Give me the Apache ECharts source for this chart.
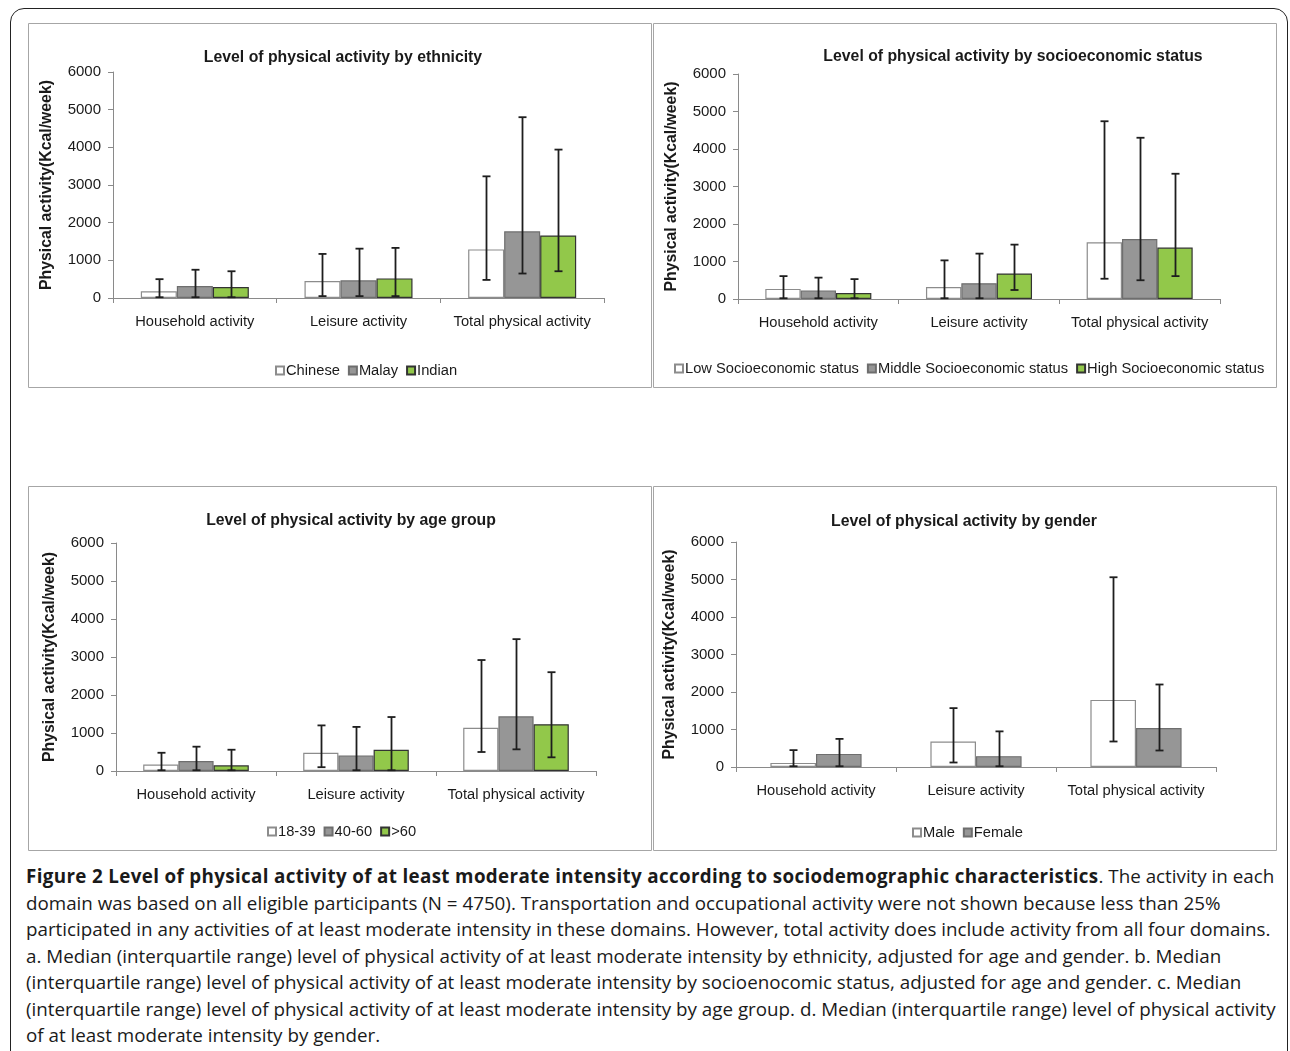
<!DOCTYPE html>
<html>
<head>
<meta charset="utf-8">
<title>Level of physical activity</title>
<script src="https://cdn.jsdelivr.net/npm/echarts@6/dist/echarts.min.js"></script>
<style>
  body { margin: 0; background: #fff; width: 1290px; height: 1051px; overflow: hidden; position: relative; }
  #frame { position: absolute; left: 10px; top: 8px; width: 1276px; height: 1100px; border: 1.5px solid #222; border-radius: 14px; }
  #main { position: absolute; left: 0; top: 0; width: 1290px; height: 860px; }
  #caption { position: absolute; left: 26px; top: 863px; font-family: "Open Sans", sans-serif; font-size: 18.8px; line-height: 26.5px; color: #1a1a1a; white-space: nowrap; }
  #caption b { letter-spacing: 0.35px; }
</style>
</head>
<body>
<div id="frame"></div>
<div id="main"></div>
<div id="caption">
<b>Figure 2 Level of physical activity of at least moderate intensity according to sociodemographic characteristics</b>. The activity in each<br>
domain was based on all eligible participants (N = 4750). Transportation and occupational activity were not shown because less than 25%<br>
participated in any activities of at least moderate intensity in these domains. However, total activity does include activity from all four domains.<br>
a. Median (interquartile range) level of physical activity of at least moderate intensity by ethnicity, adjusted for age and gender. b. Median<br>
(interquartile range) level of physical activity of at least moderate intensity by socioenocomic status, adjusted for age and gender. c. Median<br>
(interquartile range) level of physical activity of at least moderate intensity by age group. d. Median (interquartile range) level of physical activity<br>
of at least moderate intensity by gender.
</div>
<script>
// categories shared by all four panels
var categories = ['Household activity', 'Leisure activity', 'Total physical activity'];
var yTicks = [0, 1000, 2000, 3000, 4000, 5000, 6000];

// a. ethnicity : median, lower and upper quartile (per group, per category)
var ethnicNames = ['Chinese', 'Malay', 'Indian'];
var ethnicMedian = [[180, 450, 1290], [320, 470, 1770], [290, 520, 1660]];
var ethnicLow = [[20, 50, 480], [20, 50, 650], [20, 50, 710]];
var ethnicHigh = [[500, 1170, 3230], [750, 1310, 4800], [710, 1330, 3940]];

// b. socioeconomic status
var sesNames = ['Low Socioeconomic status', 'Middle Socioeconomic status', 'High Socioeconomic status'];
var sesMedian = [[270, 320, 1510], [230, 420, 1600], [160, 680, 1370]];
var sesLow = [[20, 20, 540], [20, 20, 500], [20, 240, 610]];
var sesHigh = [[610, 1030, 4740], [570, 1210, 4300], [530, 1450, 3340]];

// c. age group
var ageNames = ['18-39', '40-60', '>60'];
var ageMedian = [[170, 480, 1140], [260, 410, 1440], [150, 560, 1230]];
var ageLow = [[20, 100, 500], [20, 20, 570], [20, 20, 360]];
var ageHigh = [[480, 1200, 2920], [640, 1160, 3470], [560, 1420, 2600]];

// d. gender
var genderNames = ['Male', 'Female'];
var genderMedian = [[110, 680, 1790], [350, 290, 1040]];
var genderLow = [[20, 120, 680], [20, 20, 440]];
var genderHigh = [[450, 1570, 5060], [750, 950, 2200]];

var fills = [
  { color: '#ffffff', borderColor: '#8c8c8c', borderWidth: 1.2 },
  { color: '#969696', borderColor: '#6e6e6e', borderWidth: 1.2 },
  { color: '#92c84a', borderColor: '#333333', borderWidth: 1.2 }
];

var panels = [
  { title: 'Level of physical activity by ethnicity', names: ethnicNames, median: ethnicMedian, low: ethnicLow, high: ethnicHigh,
    grid: { left: 113, top: 72, width: 491, height: 226 }, titleAt: [343, 57], legendAt: [270, 358], box: [28, 23, 623, 364], gap: 0.34 },
  { title: 'Level of physical activity by socioeconomic status', names: sesNames, median: sesMedian, low: sesLow, high: sesHigh,
    grid: { left: 738, top: 74, width: 482, height: 225 }, titleAt: [1013, 56], legendAt: [669, 356], box: [653, 23, 623, 364], gap: 0.34 },
  { title: 'Level of physical activity by age group', names: ageNames, median: ageMedian, low: ageLow, high: ageHigh,
    grid: { left: 116, top: 543, width: 480, height: 228 }, titleAt: [351, 520], legendAt: [262, 819], box: [28, 486, 623, 364], gap: 0.34 },
  { title: 'Level of physical activity by gender', names: genderNames, median: genderMedian, low: genderLow, high: genderHigh,
    grid: { left: 736, top: 542, width: 480, height: 225 }, titleAt: [964, 521], legendAt: [907, 820], box: [653, 486, 623, 364], gap: 0.43 }
];

// error bar drawn over the k-th bar of a category
function errorBars(n, gap) {
  return function (params, api) {
    var cat = api.value(0), k = api.value(3);
    var top = api.coord([cat, api.value(2)]);
    var bot = api.coord([cat, api.value(1)]);
    var band = api.size([1, 0])[0];
    var groupW = band * (1 - gap);
    var x = Math.round(top[0] - groupW / 2 + groupW / n * (k + 0.5)) + 0.5;
    var st = { stroke: '#1e1e1e', lineWidth: 1.8 };
    return {
      type: 'group',
      children: [
        { type: 'line', shape: { x1: x, y1: top[1], x2: x, y2: bot[1] }, style: st },
        { type: 'line', shape: { x1: x - 4, y1: top[1], x2: x + 4, y2: top[1] }, style: st },
        { type: 'line', shape: { x1: x - 4, y1: bot[1], x2: x + 4, y2: bot[1] }, style: st }
      ]
    };
  };
}

var grids = [], xAxes = [], yAxes = [], legends = [], series = [], graphics = [];
var axisGray = '#8a8a8a';

panels.forEach(function (p, i) {
  graphics.push({
    type: 'rect', shape: { x: p.box[0] + 0.5, y: p.box[1] + 0.5, width: p.box[2], height: p.box[3] },
    style: { fill: 'none', stroke: '#a6a6a6', lineWidth: 1 }, z: -1
  });
  graphics.push({
    type: 'text', x: p.titleAt[0], y: p.titleAt[1] + 1,
    style: { text: p.title, fontFamily: 'Liberation Sans', fontWeight: 'bold', fontSize: 15.8, fill: '#1a1a1a', align: 'center', verticalAlign: 'middle' }
  });
  grids.push(p.grid);
  xAxes.push({
    type: 'category', gridIndex: i, data: categories,
    axisLine: { lineStyle: { color: axisGray, width: 1 } },
    axisTick: { show: true, length: 5, alignWithLabel: false, lineStyle: { color: axisGray } },
    axisLabel: { interval: 0, fontSize: 14.7, color: '#1a1a1a', margin: 16, fontFamily: 'Liberation Sans' }
  });
  yAxes.push({
    type: 'value', gridIndex: i, min: yTicks[0], max: yTicks[yTicks.length - 1], interval: yTicks[1] - yTicks[0],
    name: 'Physical activity(Kcal/week)', nameLocation: 'middle', nameGap: 58, nameRotate: 90,
    nameTextStyle: { fontSize: 15.8, fontWeight: 'bold', color: '#1a1a1a', fontFamily: 'Liberation Sans' },
    axisLine: { show: true, lineStyle: { color: axisGray, width: 1 } },
    axisTick: { show: true, length: 5, lineStyle: { color: axisGray } },
    splitLine: { show: false },
    axisLabel: { fontSize: 15, color: '#1a1a1a', margin: 12, fontFamily: 'Liberation Sans',
      formatter: function (v) { return String(v); } }
  });
  legends.push({
    left: p.legendAt[0], top: p.legendAt[1], data: p.names, icon: 'rect',
    itemWidth: 8, itemHeight: 8, itemGap: 8,
    textStyle: { fontSize: 14.7, color: '#1a1a1a', fontFamily: 'Liberation Sans', padding: [0, 0, 0, -3] }
  });
  var n = p.names.length;
  var errData = [];
  p.names.forEach(function (name, k) {
    series.push({
      type: 'bar', name: name, xAxisIndex: i, yAxisIndex: i,
      data: p.median[k], barGap: '0%', barCategoryGap: (p.gap * 100) + '%',
      itemStyle: fills[k], emphasis: { disabled: true }, animation: false
    });
    for (var c = 0; c < categories.length; c++) {
      errData.push([c, p.low[k][c], p.high[k][c], k]);
    }
  });
  series.push({
    type: 'custom', name: 'iqr' + i, xAxisIndex: i, yAxisIndex: i,
    data: errData, encode: { x: 0, y: 2 }, renderItem: errorBars(n, p.gap), z: 5, animation: false
  });
});

var chart = echarts.init(document.getElementById('main'));
chart.setOption({
  animation: false,
  textStyle: { fontFamily: 'Liberation Sans' },
  grid: grids,
  xAxis: xAxes,
  yAxis: yAxes,
  legend: legends,
  series: series,
  graphic: graphics
});
</script>
</body>
</html>
